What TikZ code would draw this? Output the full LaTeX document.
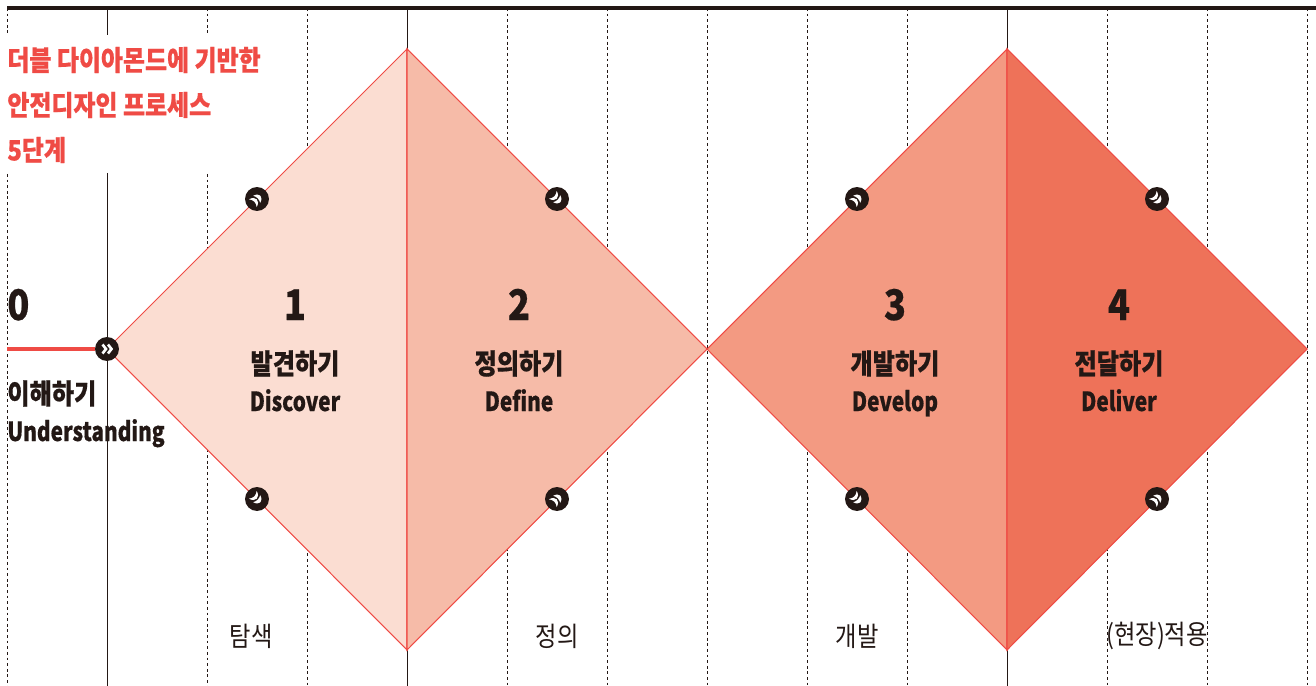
\documentclass[tikz,border=0pt]{standalone}
\usepackage{fontspec}
\usepackage{xcolor}
\setmainfont{Noto Sans CJK KR}
\newfontfamily\krfont[FakeStretch=0.86,BoldFeatures={FakeBold=0.5}]{Noto Sans CJK KR}
\newfontfamily\enfont[FakeStretch=0.79,BoldFeatures={FakeBold=0.5}]{Noto Sans CJK KR}
\definecolor{linered}{HTML}{EF4B45}
\definecolor{inkblack}{HTML}{231815}
\definecolor{stepa}{HTML}{FBDDD2}
\definecolor{stepb}{HTML}{F6BBA8}
\definecolor{stepc}{HTML}{F39A82}
\definecolor{stepd}{HTML}{EE7259}
\tikzset{
  gridsolid/.style={draw=inkblack,line width=0.5pt},
  griddash/.style={draw=inkblack,line width=0.45pt,dash pattern=on 1.6pt off 1.6pt},
  halfshape/.style={draw=linered,line width=0.6pt,line join=miter},
  dot/.style={circle,fill=inkblack,minimum size=0.48cm,inner sep=0pt},
  titletext/.style={anchor=west,inner sep=0pt,text=linered,font=\krfont\fontsize{15.85}{15.85}\selectfont\bfseries},
  numtext/.style={anchor=base,inner sep=0pt,text=inkblack,font=\krfont\fontsize{24}{24}\selectfont\bfseries},
  stagetext/.style={anchor=base,inner sep=0pt,text=inkblack,font=\krfont\fontsize{16}{16}\selectfont\bfseries},
  engtext/.style={anchor=base,inner sep=0pt,text=inkblack,font=\enfont\fontsize{15}{15}\selectfont\bfseries},
  phasetext/.style={inner sep=0pt,text=inkblack,font=\krfont\fontsize{15.4}{15.4}\selectfont},
  chevron/.pic={
    \draw[white,line width=1.5pt,line join=miter] (-4.5,-4.5) -- (-1,0) -- (-4.5,4.5);
    \draw[white,line width=1.5pt,line join=miter] (1,-4.5) -- (4.5,0) -- (1,4.5);
  },
  crescent/.pic={
    \fill[white] (-6,-5.5) .. controls (1.5,-3.5) and (1.5,3.5) .. (-6,5.5) .. controls (-3,2) and (-3,-2) .. cycle;
    \fill[white] (-0.5,-5) .. controls (6.5,-3) and (6.5,3) .. (-0.5,5) .. controls (1.5,2) and (1.5,-2) .. cycle;
  }
}
\begin{document}
\begin{tikzpicture}[x=0.02cm,y=-0.02cm]
        \useasboundingbox (0,0) rectangle (1316,686);

        % grid lines
        \foreach \x in {7,207}{
            \draw[griddash] (\x,8) -- (\x,34);
            \draw[griddash] (\x,174) -- (\x,686);
        }
        \draw[gridsolid] (107,8) -- (107,35);
        \draw[gridsolid] (107,173) -- (107,686);
        \foreach \x in {307,507,607,707,807,907,1107,1207,1307}
            \draw[griddash] (\x,8) -- (\x,686);
        \foreach \x in {407,1007}
            \draw[gridsolid] (\x,8) -- (\x,686);
        \draw[inkblack,line width=1.8pt] (7,8) -- (1316,8);

        % diamond corners
        \coordinate (L) at (107,349);
        \coordinate (T1) at (407,49);
        \coordinate (B1) at (407,650);
        \coordinate (M) at (707,349);
        \coordinate (T2) at (1007,49);
        \coordinate (B2) at (1007,650);
        \coordinate (R) at (1307,349);
        \coordinate (start) at (7,349);

        % four halves
        \filldraw[halfshape,fill=stepa] (L) -- (T1) -- (B1) -- cycle;
        \filldraw[halfshape,fill=stepb] (T1) -- (M) -- (B1) -- cycle;
        \filldraw[halfshape,fill=stepc] (M) -- (T2) -- (B2) -- cycle;
        \filldraw[halfshape,fill=stepd] (T2) -- (R) -- (B2) -- cycle;

        % start line and dots
        \node[dot] (dotstart) at (107,349) {};
        \draw[linered,line width=1.8pt] (start) -- (dotstart);
        \pic at (dotstart) {chevron};
        \foreach \n/\x/\y/\a in {ua/257/199/45,ub/557/199/-45,uc/857/199/45,ud/1157/199/-45,
                                 la/257/499/-45,lb/557/499/45,lc/857/499/-45,ld/1157/499/45}{
            \node[dot] (dot\n) at (\x,\y) {};
            \pic[rotate=\a] at (dot\n) {crescent};
        }

        % title
        \node[titletext] (title1) at (7,60) {더블 다이아몬드에 기반한};
        \node[titletext] (title2) at (7,105) {안전디자인 프로세스};
        \node[titletext] (title3) at (7,150) {5단계};

        % stage labels
        \node[numtext,anchor=base west] (num0) at (7,320) {0};
        \node[stagetext,anchor=base west] (kr0) at (7,404) {이해하기};
        \node[engtext,anchor=base west] (en0) at (7,441) {Understanding};
        \foreach \n/\x/\k/\e in {1/295/발견하기/Discover,2/519/정의하기/Define,
                                 3/895/개발하기/Develop,4/1119/전달하기/Deliver}{
            \node[numtext] (num\n) at (\x,320) {\n};
            \node[stagetext] (kr\n) at (\x,374) {\k};
            \node[engtext] (en\n) at (\x,411) {\e};
        }

        % bottom labels
        \node[phasetext] (phase1) at (251,636) {탐색};
        \node[phasetext] (phase2) at (557,636) {정의};
        \node[phasetext] (phase3) at (857,636) {개발};
        \node[phasetext] (phase4) at (1157,636) {(현장)적용};
    \end{tikzpicture}
\end{document}
